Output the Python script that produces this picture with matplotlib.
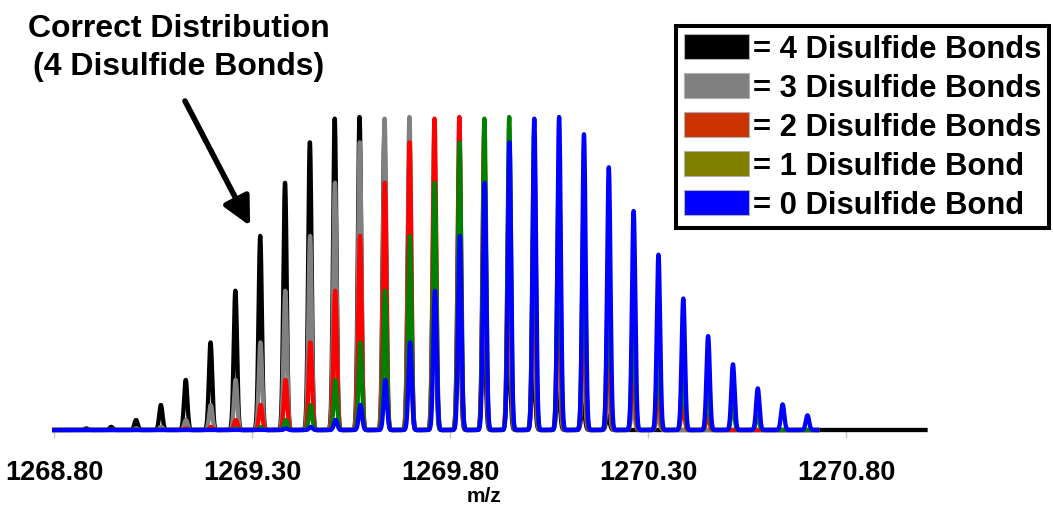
import numpy as np
import matplotlib
matplotlib.use("Agg")
import matplotlib.pyplot as plt
from matplotlib.patches import Patch

# relative heights of the isotope peaks, lightest isotope first
isotope_heights = [0.005, 0.01, 0.032, 0.08, 0.16, 0.28, 0.445, 0.62, 0.79, 0.92,
                   0.995, 1.0, 0.945, 0.84, 0.70, 0.56, 0.42, 0.30, 0.21, 0.133,
                   0.082, 0.047]
isotope_spacing = 0.06271  # m/z between isotope peaks (z = 16)

series_labels = ["= 4 Disulfide Bonds", "= 3 Disulfide Bonds", "= 2 Disulfide Bonds",
                 "= 1 Disulfide Bond", "= 0 Disulfide Bond"]
first_peak_mz = [1268.881, 1269.007, 1269.133, 1269.259, 1269.385]
scan_end_mz = [1271.00, 1270.727, 1270.727, 1270.727, 1270.727]
line_colors = ["#000000", "#808080", "#ff0000", "#008000", "#0000ff"]
legend_colors = ["#000000", "#808080", "#cc3300", "#808000", "#0000ff"]

tick_values = [1268.80, 1269.30, 1269.80, 1270.30, 1270.80]
tick_labels = ["1268.80", "1269.30", "1269.80", "1270.30", "1270.80"]

arrow_tip = (1269.2945, 0.652)

peak_sigma = 0.0042
W, H = 1053, 506

plt.rcParams["font.family"] = ["Liberation Sans", "DejaVu Sans"]
plt.rcParams["font.weight"] = "bold"


def profile(mz_start, mz_end, heights):
    mz = np.arange(1268.80, mz_end + 1e-9, 0.0004)
    inten = np.zeros_like(mz)
    for i, h in enumerate(heights):
        center = mz_start + i * isotope_spacing
        inten += h * np.exp(-0.5 * ((mz - center) / peak_sigma) ** 2)
    return mz, inten


fig = plt.figure(figsize=(W / 100, H / 100), dpi=100)
ax = fig.add_axes([54.3 / W, 1 - 431 / H, 871.2 / W, 331 / H])

for start, end, color in zip(first_peak_mz, scan_end_mz, line_colors):
    mz, inten = profile(start, end, isotope_heights)
    ax.plot(mz, inten, color=color, lw=3.1, clip_on=False, solid_joinstyle="round")

ax.set_xlim(1268.80, 1271.00)
ax.set_ylim(0, 331 / 313)
for side in ["top", "right", "left", "bottom"]:
    ax.spines[side].set_visible(False)
ax.set_yticks([])
ax.set_xticks(tick_values)
ax.set_xticklabels(tick_labels, fontsize=19.5, fontweight="bold")
ax.tick_params(axis="x", direction="out", length=6, width=1, color="#c8c8c8", pad=15)

fig.text(484 / W, 1 - 497 / H, "m/z", ha="center", va="center",
         fontsize=15, fontweight="bold")

fig.text(179 / W, 1 - 48 / H, "Correct Distribution\n(4 Disulfide Bonds)",
         ha="center", va="center", fontsize=23, fontweight="bold", linespacing=1.33)
ax.annotate("", xy=arrow_tip, xycoords="data",
            xytext=(185, H - 102), textcoords="figure pixels",
            arrowprops=dict(arrowstyle="-|>,head_length=0.5,head_width=0.25",
                            mutation_scale=34, lw=4.0, color="black",
                            shrinkA=0, shrinkB=0))

handles = [Patch(facecolor=c, edgecolor="#b0b0b0", lw=0.8) for c in legend_colors]
leg = ax.legend(handles, series_labels, loc="upper right",
                bbox_to_anchor=(1049 / W, 1 - 27 / H), bbox_transform=fig.transFigure,
                borderaxespad=0, prop={"size": 22.3, "weight": "bold"},
                handlelength=2.1, handleheight=0.87, handletextpad=0.1,
                labelspacing=0.28, borderpad=0.26, fancybox=False, framealpha=1)
leg.get_frame().set_edgecolor("black")
leg.get_frame().set_linewidth(2.9)

fig.savefig("out.png", dpi=100)
